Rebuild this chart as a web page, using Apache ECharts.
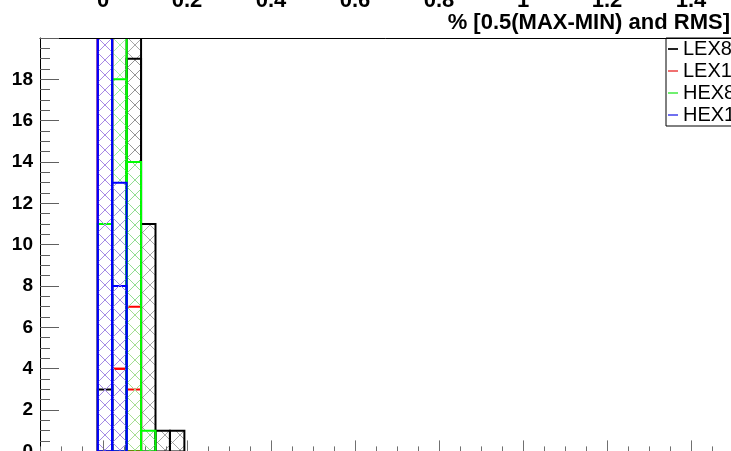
<!DOCTYPE html>
<html><head><meta charset="utf-8">
<script src="https://cdn.jsdelivr.net/npm/echarts@6/dist/echarts.min.js"></script>
<style>html,body{margin:0;padding:0;background:#fff}#c{width:731px;height:451px}</style>
</head><body><div id="c"></div>
<script>
// ---- data ----
const binEdges = [-0.0125, 0.021875, 0.05625, 0.090625, 0.125, 0.159375, 0.19375];
const LEX8_MAXMIN = [0, 0, 19, 11, 1, 1];
const LEX8_RMS    = [3, 0, 29, 0, 0, 0];
const LEX1_MAXMIN = [21, 4, 7, 0, 0, 0];
const LEX1_RMS    = [25, 4, 3, 0, 0, 0];
const HEX8_MAXMIN = [0, 18, 14, 1, 0, 0];
const HEX8_RMS    = [11, 22, 0, 0, 0, 0];
const HEX1_MAXMIN = [20, 13, 0, 0, 0, 0];
const HEX1_RMS    = [25, 8, 0, 0, 0, 0];
const legendLabels = ['LEX8', 'LEX1', 'HEX8', 'HEX1'];
const xTitle = '% [0.5(MAX-MIN) and RMS]';

// ---- styles ----
const FONT = '"Liberation Sans", Arial, Helvetica, sans-serif';
const lineColors = {LEX8: '#000000', LEX1: '#ff0000', HEX8: '#00ff00', HEX1: '#0000ff'};
const hatchColors = {LEX8: '#909090', LEX1: '#ff9a9a', HEX8: '#90f090', HEX1: '#a488e8'};
const legendColors = {LEX8: '#222222', LEX1: '#f07070', HEX8: '#70f070', HEX1: '#7070f0'};

function hatch(color) {
  const c = document.createElement('canvas');
  c.width = 15; c.height = 15;
  const g = c.getContext('2d');
  g.strokeStyle = color; g.lineWidth = 0.8;
  g.beginPath();
  g.moveTo(0, 0); g.lineTo(15, 15);
  g.moveTo(15, 0); g.lineTo(0, 15);
  g.stroke();
  return {image: c, repeat: 'repeat'};
}

const hists = [
  ['LEX8', LEX8_RMS], ['LEX8', LEX8_MAXMIN],
  ['LEX1', LEX1_RMS], ['LEX1', LEX1_MAXMIN],
  ['HEX8', HEX8_RMS], ['HEX8', HEX8_MAXMIN],
  ['HEX1', HEX1_RMS], ['HEX1', HEX1_MAXMIN]
];

const series = hists.map(function (h) {
  const name = h[0], vals = h[1];
  const pat = hatch(hatchColors[name]);
  const data = vals.map(function (v, i) { return [binEdges[i], binEdges[i + 1], v]; });
  return {
    type: 'custom', name: name, xAxisIndex: 0, yAxisIndex: 0, clip: true,
    itemStyle: {color: lineColors[name]},
    encode: {x: [0, 1], y: 2},
    data: data,
    renderItem: function (params, api) {
      const v = api.value(2);
      if (!v) return null;
      const p0 = api.coord([api.value(0), 0]);
      const p1 = api.coord([api.value(1), v]);
      return {
        type: 'rect',
        shape: {x: p0[0], y: p1[1], width: p1[0] - p0[0], height: p0[1] - p1[1]},
        style: {fill: pat, stroke: lineColors[name], lineWidth: 2}
      };
    }
  };
});

const chart = echarts.init(document.getElementById('c'), null, {renderer: 'canvas'});
chart.setOption({
  animation: false,
  backgroundColor: '#ffffff',
  grid: [
    {left: 40, top: 38, width: 693, height: 413.4, show: false, containLabel: false, outerBoundsMode: 'none'},
    {left: 103, top: 38, width: 630, height: 413.4, show: false, containLabel: false, outerBoundsMode: 'none'}
  ],
  xAxis: [
    {gridIndex: 0, type: 'value', position: 'bottom', min: -0.15, max: 1.5, interval: 0.05,
     axisLine: {show: false, onZero: false}, axisTick: {show: true, inside: true, length: 5, lineStyle: {color: '#707070'}},
     axisLabel: {show: false}, splitLine: {show: false}, z: 10},
    {gridIndex: 0, type: 'value', position: 'top', min: -0.15, max: 1.5,
     axisLine: {show: true, onZero: false, lineStyle: {color: '#000', width: 1}}, axisTick: {show: false},
     axisLabel: {show: false}, splitLine: {show: false}, z: 10},
    {gridIndex: 1, type: 'value', position: 'bottom', min: 0, max: 1.5, interval: 0.2,
     axisLine: {show: false, onZero: false}, axisTick: {show: true, inside: true, length: 11, lineStyle: {color: '#707070'}},
     axisLabel: {show: false}, splitLine: {show: false}, z: 10},
    {gridIndex: 1, type: 'value', position: 'top', min: 0, max: 1.5, interval: 0.2,
     axisLine: {show: false, onZero: false}, axisTick: {show: false},
     axisLabel: {show: true, margin: 26, showMaxLabel: false, color: '#000', fontWeight: 'bold', fontSize: 22, fontFamily: FONT},
     splitLine: {show: false}, z: 10}
  ],
  yAxis: [
    {gridIndex: 0, type: 'value', position: 'left', min: 0, max: 20, interval: 2,
     axisLine: {show: true, onZero: false, lineStyle: {color: '#000', width: 1}},
     axisTick: {show: true, inside: true, length: 19, lineStyle: {color: '#606060'}},
     minorTick: {show: true, splitNumber: 4, length: 10, lineStyle: {color: '#606060'}},
     axisLabel: {show: true, margin: 7, showMaxLabel: false, color: '#000', fontWeight: 'bold', fontSize: 19, fontFamily: FONT},
     splitLine: {show: false}, minorSplitLine: {show: false}, z: 10},
    {gridIndex: 1, type: 'value', min: 0, max: 20, show: false, axisLine: {onZero: false}}
  ],
  legend: {
    orient: 'vertical', left: 666, top: 38, padding: [0, 20, 0, 2],
    itemGap: 0, itemWidth: 10, itemHeight: 2, icon: 'rect',
    borderColor: '#000', borderWidth: 1, borderRadius: 0, backgroundColor: '#fff',
    textStyle: {fontSize: 20, lineHeight: 22, fontFamily: FONT, color: '#000'},
    selectedMode: false,
    data: legendLabels.map(function (n) { return {name: n, itemStyle: {color: legendColors[n]}}; })
  },
  graphic: [
    {type: 'text', right: 1, top: 12, z: 100,
     style: {text: xTitle, font: 'bold 22px ' + FONT, fill: '#000'}}
  ],
  series: series
});
</script>
</body></html>
